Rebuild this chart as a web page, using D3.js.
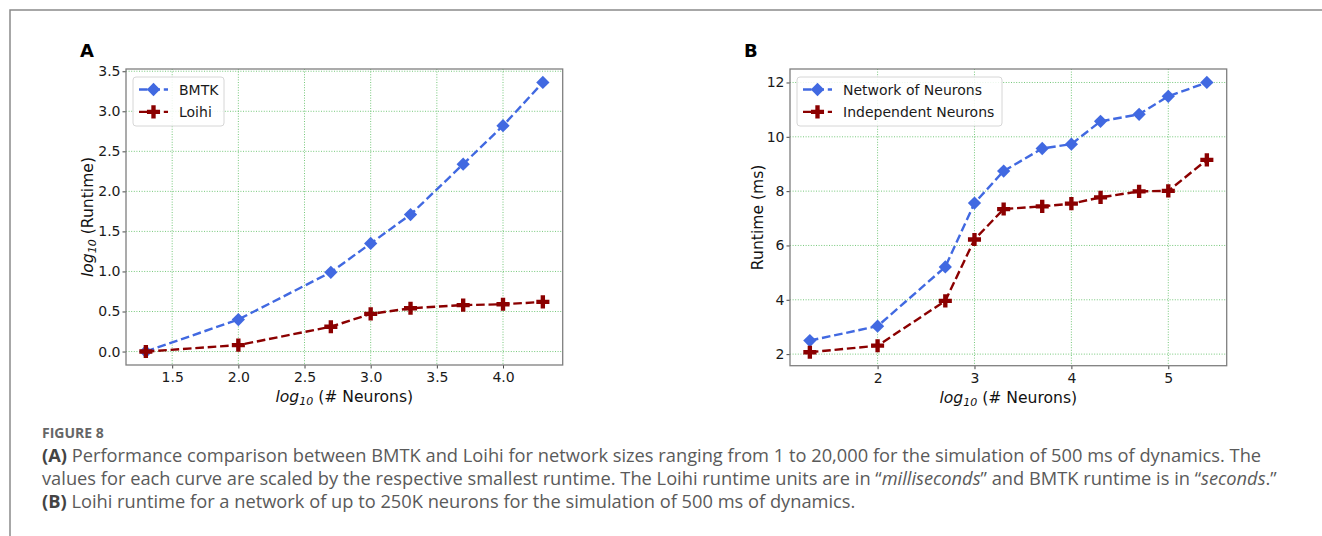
<!DOCTYPE html>
<html>
<head>
<meta charset="utf-8">
<script src="https://cdn.jsdelivr.net/npm/d3@7"></script>
<style>
  body { margin: 0; background: #fff; }
  svg { display: block; }
  .tick text { font-family: "DejaVu Sans", sans-serif; font-size: 14px; fill: #1a1a1a; }
</style>
</head>
<body>
<div id="viz"></div>
<script>
// panel A: scaled runtimes (log10)
const neuronsA = [20, 100, 500, 1000, 2000, 5000, 10000, 20000];
const bmtk = [0, 0.40, 0.99, 1.35, 1.71, 2.34, 2.82, 3.36];
const loihi = [0, 0.08, 0.31, 0.47, 0.54, 0.58, 0.59, 0.62];
const ticksXA = [1.5, 2.0, 2.5, 3.0, 3.5, 4.0];
const ticksYA = [0.0, 0.5, 1.0, 1.5, 2.0, 2.5, 3.0, 3.5];

// panel B: runtime in ms
const neuronsB = [20, 100, 500, 1000, 2000, 5000, 10000, 20000, 50000, 100000, 250000];
const network = [2.50, 3.03, 5.21, 7.56, 8.74, 9.57, 9.73, 10.57, 10.83, 11.49, 12.0];
const independent = [2.07, 2.31, 3.96, 6.22, 7.34, 7.44, 7.54, 7.77, 7.99, 8.01, 9.15];
const ticksXB = [2, 3, 4, 5];
const ticksYB = [2, 4, 6, 8, 10, 12];

const blue = "#4169e1", red = "#8b0000";

const svg = d3.select("#viz").append("svg")
  .attr("width", 1322)
  .attr("height", 536);

// outer frame (top and left rules)
svg.append("path")
  .attr("d", "M10,536 V10 H1322")
  .attr("fill", "none")
  .attr("stroke", "#8a8a8a")
  .attr("stroke-width", 1.5);

// matplotlib-like 5% padding
const pad = (lo, hi) => { const r = hi - lo; return [lo - 0.05 * r, hi + 0.05 * r]; };

const diamond = d3.symbol().type(d3.symbolSquare).size(88);
const plus = d3.symbol().type(d3.symbolCross).size(95);
const dash = "8.6,3.8";

function drawPanel(opt) {
  const g = svg.append("g");
  const x = d3.scaleLinear().domain(opt.xdom).range([opt.left, opt.right]);
  const y = d3.scaleLinear().domain(opt.ydom).range([opt.bottom, opt.top]);

  // grid
  const grid = g.append("g");
  grid.append("g").selectAll("line").data(opt.xticks).join("line")
    .attr("x1", d => x(d)).attr("x2", d => x(d))
    .attr("y1", opt.top).attr("y2", opt.bottom);
  grid.append("g").selectAll("line").data(opt.yticks).join("line")
    .attr("y1", d => y(d)).attr("y2", d => y(d))
    .attr("x1", opt.left).attr("x2", opt.right);
  grid.selectAll("line")
    .attr("stroke", "#3cb043")
    .attr("stroke-opacity", 0.7)
    .attr("stroke-width", 1)
    .attr("stroke-dasharray", "1,1.6");

  // axes
  const ax = g.append("g")
    .attr("transform", "translate(0," + opt.bottom + ")")
    .call(d3.axisBottom(x).tickValues(opt.xticks).tickFormat(opt.xfmt).tickSize(3.5).tickPadding(4));
  const ay = g.append("g")
    .attr("transform", "translate(" + opt.left + ",0)")
    .call(d3.axisLeft(y).tickValues(opt.yticks).tickFormat(opt.yfmt).tickSize(3.5).tickPadding(2));
  [ax, ay].forEach(a => {
    a.select(".domain").remove();
    a.selectAll(".tick line").attr("stroke", "#333").attr("stroke-width", 0.9);
    a.selectAll(".tick text").attr("font-family", null).attr("font-size", null);
  });

  // box
  g.append("rect")
    .attr("x", opt.left).attr("y", opt.top)
    .attr("width", opt.right - opt.left).attr("height", opt.bottom - opt.top)
    .attr("fill", "none").attr("stroke", "#7f7f7f").attr("stroke-width", 1.3);

  // series
  opt.series.forEach(s => {
    const pts = s.xs.map((v, i) => [Math.log10(v), s.ys[i]]);
    g.append("path")
      .datum(pts)
      .attr("fill", "none")
      .attr("stroke", s.color)
      .attr("stroke-width", 2.4)
      .attr("stroke-dasharray", dash)
      .attr("d", d3.line().x(d => x(d[0])).y(d => y(d[1])));
    g.append("g").selectAll("path").data(pts).join("path")
      .attr("transform", d => "translate(" + x(d[0]) + "," + y(d[1]) + ")" + (s.marker === diamond ? " rotate(45)" : ""))
      .attr("d", s.marker)
      .attr("fill", s.color);
  });

  // legend
  const lg = g.append("g");
  lg.append("rect")
    .attr("x", opt.legend.x).attr("y", opt.top + 8)
    .attr("width", opt.legend.w).attr("height", 49)
    .attr("rx", 3)
    .attr("fill", "#fff").attr("fill-opacity", 0.85)
    .attr("stroke", "#d6d6d6");
  opt.series.forEach((s, i) => {
    const cy = opt.top + 20.5 + i * 22.4;
    const x0 = opt.legend.x + 6;
    lg.append("line")
      .attr("x1", x0).attr("x2", x0 + 29)
      .attr("y1", cy).attr("y2", cy)
      .attr("stroke", s.color).attr("stroke-width", 2.4)
      .attr("stroke-dasharray", dash);
    lg.append("path")
      .attr("transform", "translate(" + (x0 + 14.5) + "," + cy + ")" + (s.marker === diamond ? " rotate(45)" : ""))
      .attr("d", s.marker)
      .attr("fill", s.color);
    lg.append("text")
      .attr("x", x0 + 40).attr("y", cy + 5)
      .attr("font-family", "DejaVu Sans, sans-serif")
      .attr("font-size", 14)
      .attr("fill", "#1a1a1a")
      .text(s.name);
  });

  // panel letter
  g.append("text")
    .attr("x", opt.left - 46).attr("y", opt.top - 12)
    .attr("font-family", "DejaVu Sans, sans-serif")
    .attr("font-weight", "bold")
    .attr("font-size", 18)
    .text(opt.letter);

  // x label
  const xl = g.append("text")
    .attr("x", (opt.left + opt.right) / 2).attr("y", opt.bottom + 37)
    .attr("text-anchor", "middle")
    .attr("font-family", "DejaVu Sans, sans-serif")
    .attr("font-size", 15.6)
    .attr("fill", "#111");
  xl.append("tspan").attr("font-style", "italic").text("log");
  xl.append("tspan").attr("font-style", "italic").attr("font-size", 11).attr("dy", 3).text("10");
  xl.append("tspan").attr("dy", -3).text(" (# Neurons)");

  // y label
  const yl = g.append("text")
    .attr("transform", "translate(" + opt.ylabelX + "," + ((opt.top + opt.bottom) / 2) + ") rotate(-90)")
    .attr("text-anchor", "middle")
    .attr("font-family", "DejaVu Sans, sans-serif")
    .attr("font-size", 15.6)
    .attr("fill", "#111");
  opt.ylabel(yl);
}

drawPanel({
  letter: "A",
  left: 126, right: 562.7, top: 69, bottom: 365,
  xdom: pad(Math.log10(20), Math.log10(20000)),
  ydom: pad(0, 3.36),
  xticks: ticksXA, yticks: ticksYA,
  xfmt: d3.format(".1f"), yfmt: d3.format(".1f"),
  ylabelX: 93,
  ylabel: t => {
    t.append("tspan").attr("font-style", "italic").text("log");
    t.append("tspan").attr("font-style", "italic").attr("font-size", 11).attr("dy", 3).text("10");
    t.append("tspan").attr("dy", -3).text(" (Runtime)");
  },
  legend: { x: 133, w: 91 },
  series: [
    { name: "BMTK", xs: neuronsA, ys: bmtk, color: blue, marker: diamond },
    { name: "Loihi", xs: neuronsA, ys: loihi, color: red, marker: plus }
  ]
});

drawPanel({
  letter: "B",
  left: 790, right: 1226.7, top: 69, bottom: 365.7,
  xdom: pad(Math.log10(20), Math.log10(250000)),
  ydom: pad(2.07, 12.0),
  xticks: ticksXB, yticks: ticksYB,
  xfmt: d3.format("d"), yfmt: d3.format("d"),
  ylabelX: 763,
  ylabel: t => t.text("Runtime (ms)"),
  legend: { x: 797, w: 205 },
  series: [
    { name: "Network of Neurons", xs: neuronsB, ys: network, color: blue, marker: diamond },
    { name: "Independent Neurons", xs: neuronsB, ys: independent, color: red, marker: plus }
  ]
});

// caption
const cap = svg.append("g")
  .attr("font-family", "Open Sans, sans-serif")
  .attr("fill", "#5a5a5a");
cap.append("text")
  .attr("x", 42).attr("y", 438)
  .attr("font-size", 14).attr("font-weight", "bold")
  .attr("fill", "#666")
  .text("FIGURE 8");

const capLines = [
  [["(A)", "b"], [" Performance comparison between BMTK and Loihi for network sizes ranging from 1 to 20,000 for the simulation of 500 ms of dynamics. The", ""]],
  [["values for each curve are scaled by the respective smallest runtime. The Loihi runtime units are in \u201c", ""], ["milliseconds", "i"], ["\u201d and BMTK runtime is in \u201c", ""], ["seconds", "i"], [".\u201d", ""]],
  [["(B)", "b"], [" Loihi runtime for a network of up to 250K neurons for the simulation of 500 ms of dynamics.", ""]]
];
const lineTexts = capLines.map((parts, i) => {
  const t = cap.append("text")
    .attr("x", 42).attr("y", 462 + i * 23)
    .attr("font-size", 16);
  parts.forEach(p => {
    const s = t.append("tspan").text(p[0]);
    if (p[1] === "b") s.attr("font-weight", "bold").attr("fill", "#444");
    if (p[1] === "i") s.attr("font-style", "italic");
  });
  return t;
});
// fit font size to the measured width of the first caption line
const w0 = lineTexts[0].node().getComputedTextLength();
const fs = 16 * 1220 / w0;
lineTexts.forEach(t => t.attr("font-size", fs));
</script>
</body>
</html>
